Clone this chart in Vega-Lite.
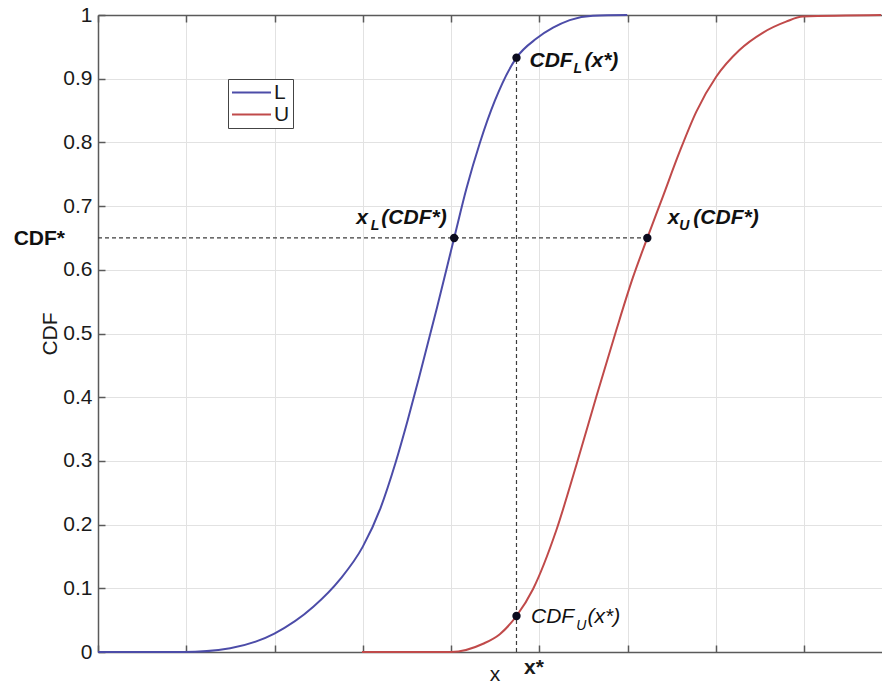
{
  "$schema": "https://vega.github.io/schema/vega-lite/v6.json",
  "width": 784,
  "height": 637,
  "autosize": {"type": "none"},
  "padding": {"left": 98, "top": 15, "right": 0, "bottom": 32},
  "background": "white",
  "config": {
    "view": {"stroke": null},
    "font": "Liberation Sans",
    "axis": {
      "domainColor": "#5a5a5a",
      "domainWidth": 1.5,
      "tickColor": "#5a5a5a",
      "tickWidth": 1.5,
      "tickSize": -7,
      "gridColor": "#e2e2e2",
      "gridWidth": 1,
      "labelFont": "Liberation Sans",
      "labelFontSize": 21,
      "labelColor": "#1a1a1a",
      "titleFont": "Liberation Sans",
      "titleFontSize": 21,
      "titleFontWeight": "normal",
      "titleColor": "#1a1a1a"
    }
  },
  "datasets": {
    "curves": [
      {"series": "L", "x": 0, "cdf": 0},
      {"series": "L", "x": 0.968, "cdf": 0},
      {"series": "L", "x": 1.497, "cdf": 0.006},
      {"series": "L", "x": 1.998, "cdf": 0.029},
      {"series": "L", "x": 2.439, "cdf": 0.071},
      {"series": "L", "x": 2.741, "cdf": 0.114},
      {"series": "L", "x": 2.998, "cdf": 0.165},
      {"series": "L", "x": 3.2, "cdf": 0.226},
      {"series": "L", "x": 3.37, "cdf": 0.297},
      {"series": "L", "x": 3.51, "cdf": 0.365},
      {"series": "L", "x": 3.635, "cdf": 0.43},
      {"series": "L", "x": 3.84, "cdf": 0.541},
      {"series": "L", "x": 4.034, "cdf": 0.65},
      {"series": "L", "x": 4.174, "cdf": 0.728},
      {"series": "L", "x": 4.325, "cdf": 0.799},
      {"series": "L", "x": 4.494, "cdf": 0.865},
      {"series": "L", "x": 4.74, "cdf": 0.933},
      {"series": "L", "x": 4.966, "cdf": 0.963},
      {"series": "L", "x": 5.154, "cdf": 0.98},
      {"series": "L", "x": 5.343, "cdf": 0.992},
      {"series": "L", "x": 5.606, "cdf": 0.999},
      {"series": "L", "x": 5.994, "cdf": 1},
      {"series": "U", "x": 2.99, "cdf": 0},
      {"series": "U", "x": 3.997, "cdf": 0},
      {"series": "U", "x": 4.362, "cdf": 0.013},
      {"series": "U", "x": 4.551, "cdf": 0.028},
      {"series": "U", "x": 4.74, "cdf": 0.0565},
      {"series": "U", "x": 4.928, "cdf": 0.099},
      {"series": "U", "x": 5.192, "cdf": 0.1915},
      {"series": "U", "x": 5.419, "cdf": 0.294},
      {"series": "U", "x": 5.645, "cdf": 0.401},
      {"series": "U", "x": 5.871, "cdf": 0.5055},
      {"series": "U", "x": 6.059, "cdf": 0.588},
      {"series": "U", "x": 6.222, "cdf": 0.65},
      {"series": "U", "x": 6.398, "cdf": 0.715},
      {"series": "U", "x": 6.587, "cdf": 0.785},
      {"series": "U", "x": 6.776, "cdf": 0.848},
      {"series": "U", "x": 7.002, "cdf": 0.903},
      {"series": "U", "x": 7.266, "cdf": 0.945},
      {"series": "U", "x": 7.529, "cdf": 0.972},
      {"series": "U", "x": 7.794, "cdf": 0.9895},
      {"series": "U", "x": 7.982, "cdf": 0.9975},
      {"series": "U", "x": 8.87, "cdf": 1}
    ],
    "guides": [
      {"x": 0, "x2": 6.222, "y": 0.65, "y2": 0.65},
      {"x": 4.74, "x2": 4.74, "y": 0, "y2": 0.933}
    ],
    "points": [
      {"x": 4.034, "y": 0.65},
      {"x": 6.222, "y": 0.65},
      {"x": 4.74, "y": 0.933},
      {"x": 4.74, "y": 0.0565}
    ]
  },
  "layer": [
    {
      "data": {"name": "curves"},
      "mark": {"type": "line", "strokeWidth": 2, "interpolate": "monotone"},
      "encoding": {
        "x": {
          "field": "x", "type": "quantitative",
          "scale": {"domain": [0, 8.88], "nice": false, "zero": false},
          "axis": {
            "orient": "bottom",
            "values": [0, 1, 2, 3, 4, 5, 6, 7, 8],
            "grid": true,
            "labelExpr": "datum.value == 5 ? 'x*' : ''",
            "labelFontWeight": "bold",
            "labelBaseline": "alphabetic",
            "labelPadding": 28,
            "labelOffset": -6,
            "labelOverlap": false,
            "labelFlush": false,
            "title": "x",
            "titleX": 396.5,
            "titleY": 28,
            "titleBaseline": "alphabetic"
          }
        },
        "y": {
          "field": "cdf", "type": "quantitative",
          "scale": {"domain": [0, 1], "nice": false},
          "axis": {
            "orient": "left",
            "values": [0, 0.1, 0.2, 0.3, 0.4, 0.5, 0.6, 0.7, 0.8, 0.9, 1],
            "format": "~g",
            "grid": true,
            "labelPadding": 13,
            "title": "CDF",
            "titleX": -42,
            "titleBaseline": "alphabetic"
          }
        },
        "color": {
          "field": "series", "type": "nominal",
          "scale": {"domain": ["L", "U"], "range": ["#4c4ca8", "#c04a4a"]},
          "legend": {
            "orient": "none",
            "legendX": 130,
            "legendY": 64,
            "title": null,
            "symbolType": "M-2.6,0H2.6",
            "symbolSize": 225,
            "symbolStrokeWidth": 2,
            "symbolOffset": 10,
            "labelOffset": 12,
            "labelFontSize": 21,
            "labelFont": "Liberation Sans",
            "labelColor": "#1a1a1a",
            "padding": 3,
            "rowPadding": 0,
            "strokeColor": "#444444",
            "fillColor": "white"
          }
        }
      }
    },
    {
      "data": {"name": "guides"},
      "mark": {"type": "rule", "color": "#3c3c3c", "strokeWidth": 1.2, "strokeDash": [4, 3]},
      "encoding": {
        "x": {
          "field": "x", "type": "quantitative",
          "scale": {"domain": [0, 8.88], "nice": false, "zero": false},
          "axis": {"orient": "top", "values": [0, 1, 2, 3, 4, 5, 6, 7, 8], "labels": false, "grid": false, "title": null}
        },
        "x2": {"field": "x2"},
        "y": {"field": "y", "type": "quantitative", "axis": null},
        "y2": {"field": "y2"}
      }
    },
    {
      "data": {"name": "points"},
      "mark": {"type": "circle", "size": 70, "color": "#0b0b1e", "opacity": 1},
      "encoding": {
        "x": {"field": "x", "type": "quantitative", "axis": null},
        "y": {"field": "y", "type": "quantitative", "axis": null}
      }
    },
    {
      "data": {"values": [{"x": 4.74, "y": 0.933, "t": "CDF"}]},
      "mark": {"type": "text", "align": "left", "baseline": "alphabetic", "dx": 13, "dy": 9, "fontSize": 21, "fontWeight": "bold", "fontStyle": "italic", "color": "#111111"},
      "encoding": {"x": {"field": "x", "type": "quantitative", "axis": null}, "y": {"field": "y", "type": "quantitative", "axis": null}, "text": {"field": "t"}}
    },
    {
      "data": {"values": [{"x": 4.74, "y": 0.933, "t": "L"}]},
      "mark": {"type": "text", "align": "left", "baseline": "alphabetic", "dx": 57, "dy": 15, "fontSize": 14, "fontWeight": "bold", "fontStyle": "italic", "color": "#111111"},
      "encoding": {"x": {"field": "x", "type": "quantitative", "axis": null}, "y": {"field": "y", "type": "quantitative", "axis": null}, "text": {"field": "t"}}
    },
    {
      "data": {"values": [{"x": 4.74, "y": 0.933, "t": "(x*)"}]},
      "mark": {"type": "text", "align": "left", "baseline": "alphabetic", "dx": 68, "dy": 9, "fontSize": 21, "fontWeight": "bold", "fontStyle": "italic", "color": "#111111"},
      "encoding": {"x": {"field": "x", "type": "quantitative", "axis": null}, "y": {"field": "y", "type": "quantitative", "axis": null}, "text": {"field": "t"}}
    },
    {
      "data": {"values": [{"x": 4.034, "y": 0.65, "t": "x"}]},
      "mark": {"type": "text", "align": "left", "baseline": "alphabetic", "dx": -98, "dy": -13.5, "fontSize": 21, "fontWeight": "bold", "fontStyle": "italic", "color": "#111111"},
      "encoding": {"x": {"field": "x", "type": "quantitative", "axis": null}, "y": {"field": "y", "type": "quantitative", "axis": null}, "text": {"field": "t"}}
    },
    {
      "data": {"values": [{"x": 4.034, "y": 0.65, "t": "L"}]},
      "mark": {"type": "text", "align": "left", "baseline": "alphabetic", "dx": -83.5, "dy": -8, "fontSize": 14, "fontWeight": "bold", "fontStyle": "italic", "color": "#111111"},
      "encoding": {"x": {"field": "x", "type": "quantitative", "axis": null}, "y": {"field": "y", "type": "quantitative", "axis": null}, "text": {"field": "t"}}
    },
    {
      "data": {"values": [{"x": 4.034, "y": 0.65, "t": "(CDF*)"}]},
      "mark": {"type": "text", "align": "right", "baseline": "alphabetic", "dx": -7.5, "dy": -13.5, "fontSize": 21, "fontWeight": "bold", "fontStyle": "italic", "color": "#111111"},
      "encoding": {"x": {"field": "x", "type": "quantitative", "axis": null}, "y": {"field": "y", "type": "quantitative", "axis": null}, "text": {"field": "t"}}
    },
    {
      "data": {"values": [{"x": 6.222, "y": 0.65, "t": "x"}]},
      "mark": {"type": "text", "align": "left", "baseline": "alphabetic", "dx": 20.5, "dy": -13.5, "fontSize": 21, "fontWeight": "bold", "fontStyle": "italic", "color": "#111111"},
      "encoding": {"x": {"field": "x", "type": "quantitative", "axis": null}, "y": {"field": "y", "type": "quantitative", "axis": null}, "text": {"field": "t"}}
    },
    {
      "data": {"values": [{"x": 6.222, "y": 0.65, "t": "U"}]},
      "mark": {"type": "text", "align": "left", "baseline": "alphabetic", "dx": 32, "dy": -8, "fontSize": 14, "fontWeight": "bold", "fontStyle": "italic", "color": "#111111"},
      "encoding": {"x": {"field": "x", "type": "quantitative", "axis": null}, "y": {"field": "y", "type": "quantitative", "axis": null}, "text": {"field": "t"}}
    },
    {
      "data": {"values": [{"x": 6.222, "y": 0.65, "t": "(CDF*)"}]},
      "mark": {"type": "text", "align": "left", "baseline": "alphabetic", "dx": 46, "dy": -13.5, "fontSize": 21, "fontWeight": "bold", "fontStyle": "italic", "color": "#111111"},
      "encoding": {"x": {"field": "x", "type": "quantitative", "axis": null}, "y": {"field": "y", "type": "quantitative", "axis": null}, "text": {"field": "t"}}
    },
    {
      "data": {"values": [{"x": 4.74, "y": 0.0565, "t": "CDF"}]},
      "mark": {"type": "text", "align": "left", "baseline": "alphabetic", "dx": 14.5, "dy": 7.3, "fontSize": 21, "fontStyle": "italic", "color": "#111111"},
      "encoding": {"x": {"field": "x", "type": "quantitative", "axis": null}, "y": {"field": "y", "type": "quantitative", "axis": null}, "text": {"field": "t"}}
    },
    {
      "data": {"values": [{"x": 4.74, "y": 0.0565, "t": "U"}]},
      "mark": {"type": "text", "align": "left", "baseline": "alphabetic", "dx": 59.7, "dy": 14, "fontSize": 14, "fontStyle": "italic", "color": "#111111"},
      "encoding": {"x": {"field": "x", "type": "quantitative", "axis": null}, "y": {"field": "y", "type": "quantitative", "axis": null}, "text": {"field": "t"}}
    },
    {
      "data": {"values": [{"x": 4.74, "y": 0.0565, "t": "(x*)"}]},
      "mark": {"type": "text", "align": "left", "baseline": "alphabetic", "dx": 71, "dy": 7.3, "fontSize": 21, "fontStyle": "italic", "color": "#111111"},
      "encoding": {"x": {"field": "x", "type": "quantitative", "axis": null}, "y": {"field": "y", "type": "quantitative", "axis": null}, "text": {"field": "t"}}
    },
    {
      "data": {"values": [{"x": 0, "y": 0.65, "t": "CDF*"}]},
      "mark": {"type": "text", "align": "right", "baseline": "alphabetic", "dx": -33, "dy": 7, "fontSize": 21, "fontWeight": "bold", "color": "#111111"},
      "encoding": {"x": {"field": "x", "type": "quantitative", "axis": null}, "y": {"field": "y", "type": "quantitative", "axis": null}, "text": {"field": "t"}}
    }
  ],
  "resolve": {"axis": {"x": "independent", "y": "independent"}}
}
